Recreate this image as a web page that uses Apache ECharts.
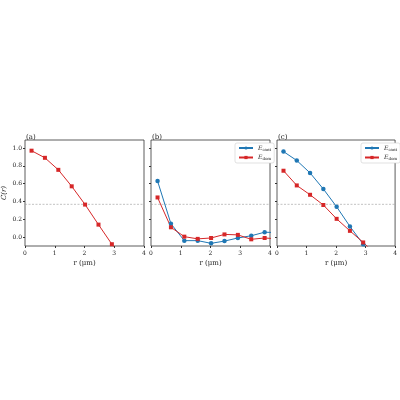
<!DOCTYPE html>
<html><head><meta charset="utf-8">
<script src="https://cdn.jsdelivr.net/npm/echarts@6/dist/echarts.min.js"></script>
<style>html,body{margin:0;padding:0;background:#fff}#c{width:400px;height:400px}</style>
</head><body><div id="c"></div>
<script>
const r = [0.22,0.67,1.12,1.57,2.02,2.47,2.92,3.37,3.82,4.27];
const aDom = [0.97,0.89,0.755,0.57,0.365,0.14,-0.08,-0.3];
const bCant = [0.63,0.15,-0.04,-0.04,-0.07,-0.045,-0.01,0.015,0.055,0.05];
const bDom = [0.445,0.11,0.005,-0.02,-0.01,0.03,0.025,-0.025,-0.01,-0.02];
const cCant = [0.96,0.86,0.72,0.54,0.34,0.12,-0.08,-0.3];
const cDom = [0.745,0.58,0.475,0.36,0.205,0.07,-0.06,-0.2];
const xTicks = [0,1,2,3,4];
const yTicks = [0,0.2,0.4,0.6,0.8,1.0];
const threshold = 0.368;
const blue='#1f77b4', red='#d62728';
const F='DejaVu Serif';
const pair = v => v.map((y,i)=>[r[i],y]);
const lefts=[25,151,277];
const grids=lefts.map(l=>({left:l,top:140,width:119,height:106,show:true,borderColor:'#333',borderWidth:0.8,backgroundColor:'transparent'}));
const xAxes=grids.map((g,i)=>({gridIndex:i,type:'value',min:0,max:4,interval:1,name:'r (μm)',nameLocation:'middle',nameGap:14,
 nameTextStyle:{fontFamily:F,fontSize:7,color:'#222'},
 axisLine:{show:false,onZero:false},axisTick:{length:2,lineStyle:{color:'#333'},customValues:xTicks},splitLine:{show:false},
 axisLabel:{fontFamily:F,fontSize:6,color:'#222',margin:4,customValues:xTicks}}));
const yAxes=grids.map((g,i)=>({gridIndex:i,type:'value',min:-0.1,max:1.09,
 name:i===0?'C(r)':'',nameLocation:'middle',nameGap:17,nameRotate:90,nameTextStyle:{fontFamily:F,fontSize:7,fontStyle:'italic',color:'#222'},
 axisLine:{show:false,onZero:false},axisTick:{length:2,lineStyle:{color:'#333'},customValues:yTicks},splitLine:{show:false},
 axisLabel:{show:i===0,fontFamily:F,fontSize:6,color:'#222',margin:3,formatter:v=>v.toFixed(1),customValues:yTicks}}));
function line(i,data,color,sym,name){return {type:'line',name,xAxisIndex:i,yAxisIndex:i,data:pair(data),clip:true,
 symbol:sym,symbolSize:sym==='rect'?4:4.5,color,lineStyle:{width:1,color},itemStyle:{color},
 showSymbol:true,z:3};}
const series=[
 line(0,aDom,red,'rect','dom'),
 line(1,bCant,blue,'circle','cant'),line(1,bDom,red,'rect','dom'),
 line(2,cCant,blue,'circle','cant'),line(2,cDom,red,'rect','dom')];
[0,1,2].forEach(i=>series.push({type:'line',xAxisIndex:i,yAxisIndex:i,data:[[0,threshold],[4,threshold]],symbol:'none',
 lineStyle:{type:[2,1.5],width:0.6,color:'#999'},z:1,silent:true}));
const legends=[1,2].map(i=>({left:lefts[i]+84,top:143,orient:'vertical',itemWidth:14,itemHeight:4,itemGap:3,
 padding:[2,3],borderColor:'#ccc',borderWidth:0.6,borderRadius:2,backgroundColor:'#fff',
 data:['cant','dom'],
 formatter:n=>'{i|E}{s|'+n+'}',
 textStyle:{fontFamily:F,fontSize:6,color:'#222',rich:{i:{fontStyle:'italic',fontSize:6,fontFamily:F},s:{fontSize:4,fontFamily:F,verticalAlign:'bottom',padding:[3,0,0,0]}}}}));
const titles=['(a)','(b)','(c)'].map((t,i)=>({text:t,left:lefts[i]-4,top:129,textStyle:{fontFamily:F,fontSize:7,fontWeight:'normal',color:'#222'}}));
const ch=echarts.init(document.getElementById('c'));
ch.setOption({animation:false,title:titles,grid:grids,xAxis:xAxes,yAxis:yAxes,series,legend:legends});
</script></body></html>
